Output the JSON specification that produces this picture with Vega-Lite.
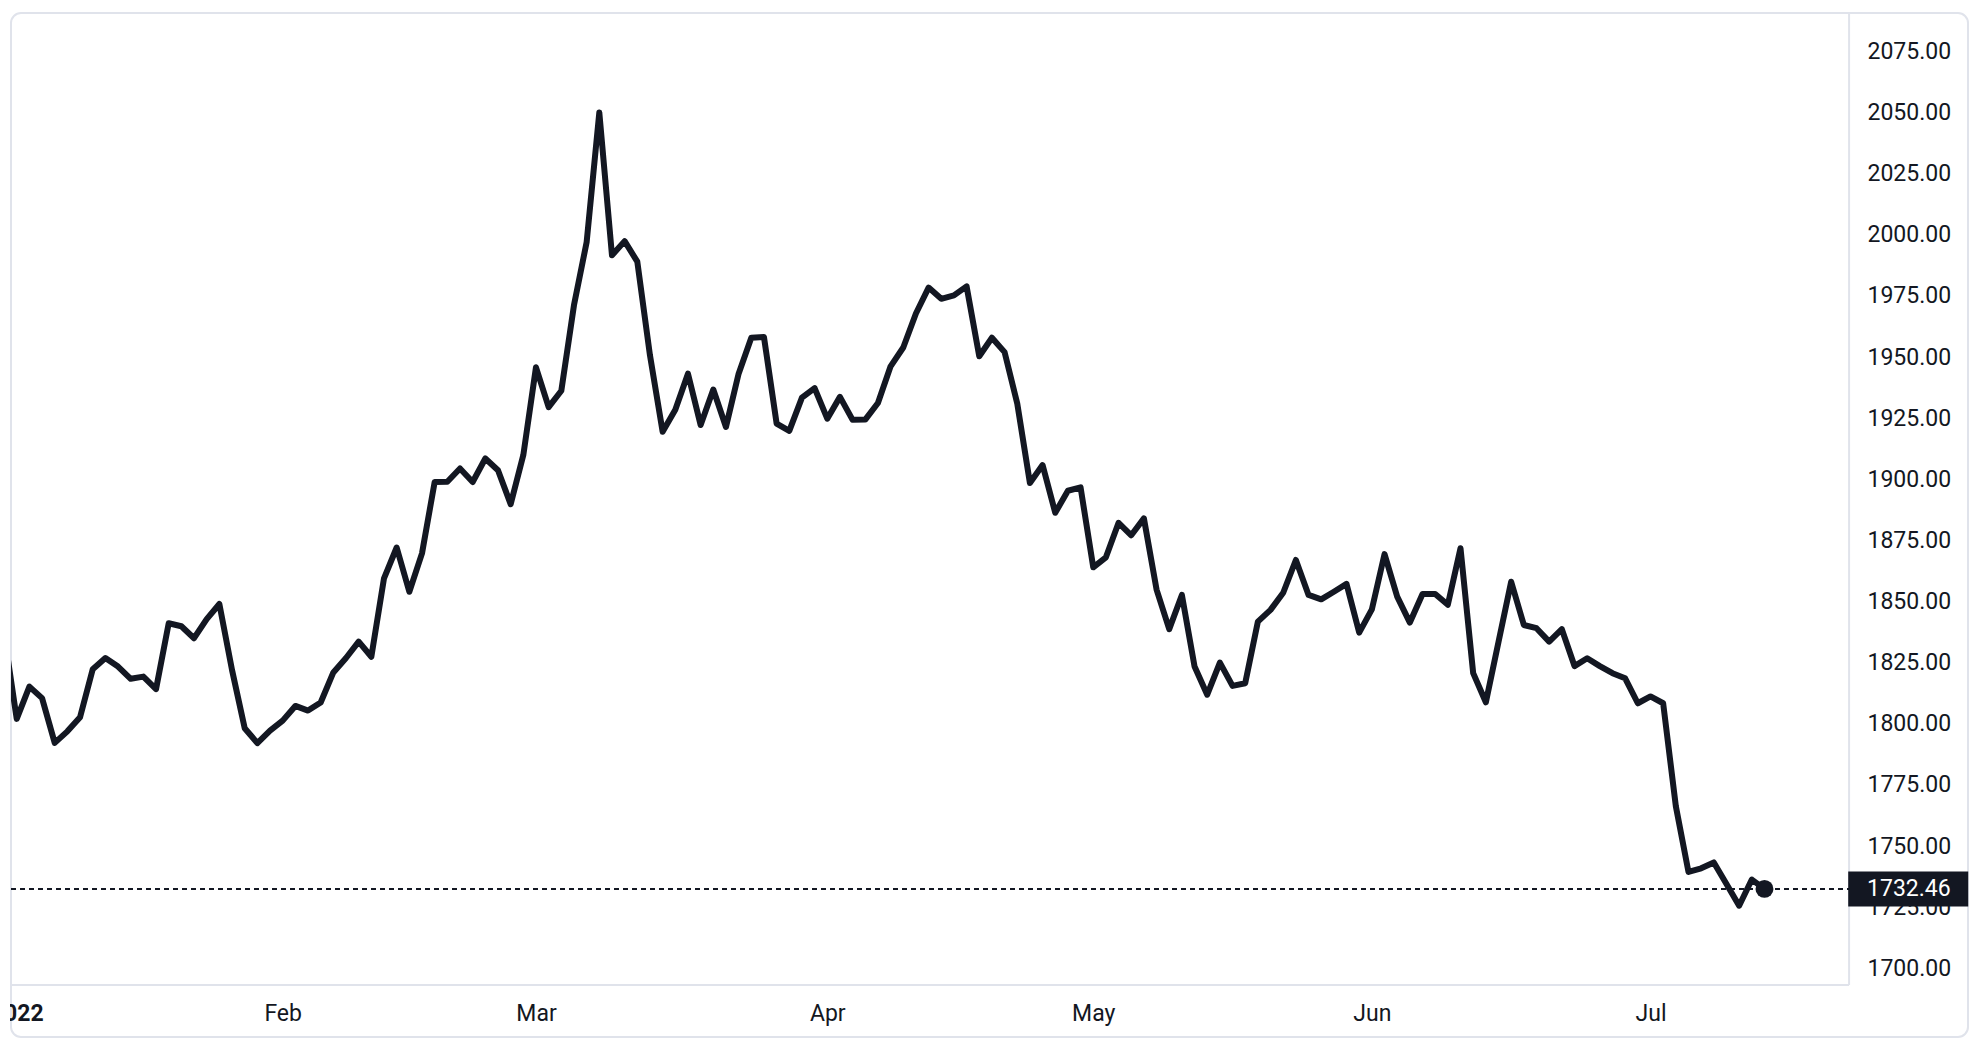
{
  "$schema": "https://vega.github.io/schema/vega-lite/v6.json",
  "width": 1957,
  "height": 1024,
  "autosize": {"type": "none"},
  "padding": {"left": 11, "top": 13, "right": 16, "bottom": 17},
  "background": "white",
  "config": {
    "view": {"stroke": "#e0e3eb", "strokeWidth": 2, "cornerRadius": 10},
    "axis": {
      "labelFont": "Roboto",
      "labelFontSize": 23,
      "labelColor": "#131722",
      "grid": false,
      "domain": false,
      "ticks": false,
      "tickSize": 0
    }
  },
  "datasets": {
    "prices": [
      {"bar": -1, "date": "2021-12-31", "close": 1837.0},
      {"bar": 0, "date": "2022-01-03", "close": 1802.0},
      {"bar": 1, "date": "2022-01-04", "close": 1815.2},
      {"bar": 2, "date": "2022-01-05", "close": 1810.5},
      {"bar": 3, "date": "2022-01-06", "close": 1792.2},
      {"bar": 4, "date": "2022-01-07", "close": 1796.9},
      {"bar": 5, "date": "2022-01-10", "close": 1802.7},
      {"bar": 6, "date": "2022-01-11", "close": 1822.3},
      {"bar": 7, "date": "2022-01-12", "close": 1826.9},
      {"bar": 8, "date": "2022-01-13", "close": 1823.4},
      {"bar": 9, "date": "2022-01-14", "close": 1818.4},
      {"bar": 10, "date": "2022-01-17", "close": 1819.3},
      {"bar": 11, "date": "2022-01-18", "close": 1814.2},
      {"bar": 12, "date": "2022-01-19", "close": 1841.1},
      {"bar": 13, "date": "2022-01-20", "close": 1839.9},
      {"bar": 14, "date": "2022-01-21", "close": 1835.0},
      {"bar": 15, "date": "2022-01-24", "close": 1842.8},
      {"bar": 16, "date": "2022-01-25", "close": 1849.0},
      {"bar": 17, "date": "2022-01-26", "close": 1822.0},
      {"bar": 18, "date": "2022-01-27", "close": 1798.2},
      {"bar": 19, "date": "2022-01-28", "close": 1792.1},
      {"bar": 20, "date": "2022-01-31", "close": 1797.2},
      {"bar": 21, "date": "2022-02-01", "close": 1801.3},
      {"bar": 22, "date": "2022-02-02", "close": 1807.3},
      {"bar": 23, "date": "2022-02-03", "close": 1805.4},
      {"bar": 24, "date": "2022-02-04", "close": 1808.7},
      {"bar": 25, "date": "2022-02-07", "close": 1821.0},
      {"bar": 26, "date": "2022-02-08", "close": 1826.9},
      {"bar": 27, "date": "2022-02-09", "close": 1833.6},
      {"bar": 28, "date": "2022-02-10", "close": 1827.4},
      {"bar": 29, "date": "2022-02-11", "close": 1859.5},
      {"bar": 30, "date": "2022-02-14", "close": 1872.1},
      {"bar": 31, "date": "2022-02-15", "close": 1854.0},
      {"bar": 32, "date": "2022-02-16", "close": 1869.7},
      {"bar": 33, "date": "2022-02-17", "close": 1898.9},
      {"bar": 34, "date": "2022-02-18", "close": 1899.0},
      {"bar": 35, "date": "2022-02-21", "close": 1904.4},
      {"bar": 36, "date": "2022-02-22", "close": 1898.9},
      {"bar": 37, "date": "2022-02-23", "close": 1908.5},
      {"bar": 38, "date": "2022-02-24", "close": 1903.7},
      {"bar": 39, "date": "2022-02-25", "close": 1889.8},
      {"bar": 40, "date": "2022-02-28", "close": 1909.9},
      {"bar": 41, "date": "2022-03-01", "close": 1945.8},
      {"bar": 42, "date": "2022-03-02", "close": 1929.5},
      {"bar": 43, "date": "2022-03-03", "close": 1936.2},
      {"bar": 44, "date": "2022-03-04", "close": 1971.2},
      {"bar": 45, "date": "2022-03-07", "close": 1997.0},
      {"bar": 46, "date": "2022-03-08", "close": 2050.0},
      {"bar": 47, "date": "2022-03-09", "close": 1991.6},
      {"bar": 48, "date": "2022-03-10", "close": 1997.4},
      {"bar": 49, "date": "2022-03-11", "close": 1989.0},
      {"bar": 50, "date": "2022-03-14", "close": 1950.7},
      {"bar": 51, "date": "2022-03-15", "close": 1919.4},
      {"bar": 52, "date": "2022-03-16", "close": 1928.4},
      {"bar": 53, "date": "2022-03-17", "close": 1943.2},
      {"bar": 54, "date": "2022-03-18", "close": 1922.2},
      {"bar": 55, "date": "2022-03-21", "close": 1936.7},
      {"bar": 56, "date": "2022-03-22", "close": 1921.4},
      {"bar": 57, "date": "2022-03-23", "close": 1943.2},
      {"bar": 58, "date": "2022-03-24", "close": 1957.9},
      {"bar": 59, "date": "2022-03-25", "close": 1958.2},
      {"bar": 60, "date": "2022-03-28", "close": 1922.8},
      {"bar": 61, "date": "2022-03-29", "close": 1919.8},
      {"bar": 62, "date": "2022-03-30", "close": 1933.4},
      {"bar": 63, "date": "2022-03-31", "close": 1937.3},
      {"bar": 64, "date": "2022-04-01", "close": 1924.8},
      {"bar": 65, "date": "2022-04-04", "close": 1933.7},
      {"bar": 66, "date": "2022-04-05", "close": 1924.3},
      {"bar": 67, "date": "2022-04-06", "close": 1924.4},
      {"bar": 68, "date": "2022-04-07", "close": 1931.2},
      {"bar": 69, "date": "2022-04-08", "close": 1946.2},
      {"bar": 70, "date": "2022-04-11", "close": 1953.9},
      {"bar": 71, "date": "2022-04-12", "close": 1967.8},
      {"bar": 72, "date": "2022-04-13", "close": 1978.4},
      {"bar": 73, "date": "2022-04-14", "close": 1973.8},
      {"bar": 74, "date": "2022-04-15", "close": 1975.2},
      {"bar": 75, "date": "2022-04-18", "close": 1978.9},
      {"bar": 76, "date": "2022-04-19", "close": 1950.3},
      {"bar": 77, "date": "2022-04-20", "close": 1957.9},
      {"bar": 78, "date": "2022-04-21", "close": 1952.0},
      {"bar": 79, "date": "2022-04-22", "close": 1931.0},
      {"bar": 80, "date": "2022-04-25", "close": 1898.5},
      {"bar": 81, "date": "2022-04-26", "close": 1905.8},
      {"bar": 82, "date": "2022-04-27", "close": 1886.3},
      {"bar": 83, "date": "2022-04-28", "close": 1895.3},
      {"bar": 84, "date": "2022-04-29", "close": 1896.7},
      {"bar": 85, "date": "2022-05-02", "close": 1864.0},
      {"bar": 86, "date": "2022-05-03", "close": 1868.1},
      {"bar": 87, "date": "2022-05-04", "close": 1882.2},
      {"bar": 88, "date": "2022-05-05", "close": 1877.1},
      {"bar": 89, "date": "2022-05-06", "close": 1884.0},
      {"bar": 90, "date": "2022-05-09", "close": 1854.9},
      {"bar": 91, "date": "2022-05-10", "close": 1838.7},
      {"bar": 92, "date": "2022-05-11", "close": 1852.7},
      {"bar": 93, "date": "2022-05-12", "close": 1823.4},
      {"bar": 94, "date": "2022-05-13", "close": 1811.9},
      {"bar": 95, "date": "2022-05-16", "close": 1825.0},
      {"bar": 96, "date": "2022-05-17", "close": 1815.5},
      {"bar": 97, "date": "2022-05-18", "close": 1816.6},
      {"bar": 98, "date": "2022-05-19", "close": 1841.8},
      {"bar": 99, "date": "2022-05-20", "close": 1846.6},
      {"bar": 100, "date": "2022-05-23", "close": 1853.6},
      {"bar": 101, "date": "2022-05-24", "close": 1867.0},
      {"bar": 102, "date": "2022-05-25", "close": 1852.7},
      {"bar": 103, "date": "2022-05-26", "close": 1850.9},
      {"bar": 104, "date": "2022-05-27", "close": 1854.0},
      {"bar": 105, "date": "2022-05-30", "close": 1857.2},
      {"bar": 106, "date": "2022-05-31", "close": 1837.3},
      {"bar": 107, "date": "2022-06-01", "close": 1846.8},
      {"bar": 108, "date": "2022-06-02", "close": 1869.4},
      {"bar": 109, "date": "2022-06-03", "close": 1852.0},
      {"bar": 110, "date": "2022-06-06", "close": 1841.4},
      {"bar": 111, "date": "2022-06-07", "close": 1853.1},
      {"bar": 112, "date": "2022-06-08", "close": 1853.1},
      {"bar": 113, "date": "2022-06-09", "close": 1848.7},
      {"bar": 114, "date": "2022-06-10", "close": 1871.8},
      {"bar": 115, "date": "2022-06-13", "close": 1820.7},
      {"bar": 116, "date": "2022-06-14", "close": 1808.8},
      {"bar": 117, "date": "2022-06-15", "close": 1833.5},
      {"bar": 118, "date": "2022-06-16", "close": 1858.1},
      {"bar": 119, "date": "2022-06-17", "close": 1840.4},
      {"bar": 120, "date": "2022-06-20", "close": 1839.1},
      {"bar": 121, "date": "2022-06-21", "close": 1833.6},
      {"bar": 122, "date": "2022-06-22", "close": 1838.7},
      {"bar": 123, "date": "2022-06-23", "close": 1823.6},
      {"bar": 124, "date": "2022-06-24", "close": 1826.8},
      {"bar": 125, "date": "2022-06-27", "close": 1823.6},
      {"bar": 126, "date": "2022-06-28", "close": 1820.7},
      {"bar": 127, "date": "2022-06-29", "close": 1818.6},
      {"bar": 128, "date": "2022-06-30", "close": 1808.4},
      {"bar": 129, "date": "2022-07-01", "close": 1811.2},
      {"bar": 130, "date": "2022-07-04", "close": 1808.4},
      {"bar": 131, "date": "2022-07-05", "close": 1766.3},
      {"bar": 132, "date": "2022-07-06", "close": 1739.4},
      {"bar": 133, "date": "2022-07-07", "close": 1740.9},
      {"bar": 134, "date": "2022-07-08", "close": 1743.3},
      {"bar": 135, "date": "2022-07-11", "close": 1734.5},
      {"bar": 136, "date": "2022-07-12", "close": 1725.6},
      {"bar": 137, "date": "2022-07-13", "close": 1736.3},
      {"bar": 138, "date": "2022-07-14", "close": 1732.46}
    ]
  },
  "data": {"name": "prices"},
  "layer": [
    {
      "mark": {"type": "line", "color": "#131722", "strokeWidth": 6, "strokeJoin": "round", "strokeCap": "round", "clip": true},
      "encoding": {
        "x": {
          "field": "bar",
          "type": "quantitative",
          "scale": {"domain": [-0.452, 154.07], "nice": false, "zero": false},
          "axis": {
            "title": null,
            "orient": "bottom",
            "offset": -52,
            "values": [0, 21, 41, 64, 85, 107, 129],
            "labelExpr": "datum.value == 0 ? '2022' : datum.value == 21 ? 'Feb' : datum.value == 41 ? 'Mar' : datum.value == 64 ? 'Apr' : datum.value == 85 ? 'May' : datum.value == 107 ? 'Jun' : 'Jul'",
            "labelPadding": 28,
            "labelBaseline": "middle",
            "labelFlush": false,
            "labelBound": false,
            "labelOverlap": false,
            "labelFontWeight": {"condition": {"test": "datum.value == 0", "value": "bold"}, "value": "normal"}
          }
        },
        "y": {
          "field": "close",
          "type": "quantitative",
          "scale": {"domain": [1671.9, 2090.7], "nice": false, "zero": false},
          "axis": {
            "title": null,
            "orient": "right",
            "offset": -119,
            "values": [1700, 1725, 1750, 1775, 1800, 1825, 1850, 1875, 1900, 1925, 1950, 1975, 2000, 2025, 2050, 2075],
            "format": ".2f",
            "labelPadding": 18,
            "labelBaseline": "middle",
            "labelOverlap": false,
            "labelBound": false,
            "labelFlush": false
          }
        }
      }
    },
    {
      "data": {"values": [{}]},
      "mark": {"type": "rect", "color": "white", "opacity": 1},
      "encoding": {
        "x": {"datum": -1.6, "type": "quantitative"},
        "x2": {"datum": -0.531},
        "y": {"datum": 1671.9, "type": "quantitative"},
        "y2": {"datum": 1693.0}
      }
    },
    {
      "data": {"values": [{}]},
      "mark": {"type": "rule", "color": "#e0e3eb", "strokeWidth": 2},
      "encoding": {
        "x": {"datum": 144.68, "type": "quantitative"},
        "y": {"datum": 1693.2, "type": "quantitative"},
        "y2": {"datum": 2090.7}
      }
    },
    {
      "data": {"values": [{}]},
      "mark": {"type": "rule", "color": "#e0e3eb", "strokeWidth": 2},
      "encoding": {
        "x": {"datum": -0.452, "type": "quantitative"},
        "x2": {"datum": 144.68},
        "y": {"datum": 1693.2, "type": "quantitative"}
      }
    },
    {
      "transform": [{"filter": "datum.bar == 138"}],
      "mark": {"type": "rule", "color": "#131722", "strokeWidth": 2, "strokeDash": [5, 4]},
      "encoding": {
        "x": {"datum": -0.452, "type": "quantitative"},
        "x2": {"datum": 144.68},
        "y": {"field": "close", "type": "quantitative"}
      }
    },
    {
      "transform": [{"filter": "datum.bar == 138"}],
      "mark": {"type": "circle", "size": 320, "color": "#131722", "opacity": 1},
      "encoding": {
        "x": {"field": "bar", "type": "quantitative"},
        "y": {"field": "close", "type": "quantitative"}
      }
    },
    {
      "transform": [{"filter": "datum.bar == 138"}],
      "mark": {"type": "tick", "orient": "vertical", "size": 35, "thickness": 120, "color": "#131722", "opacity": 1},
      "encoding": {
        "x": {"datum": 149.35, "type": "quantitative"},
        "y": {"field": "close", "type": "quantitative"}
      }
    },
    {
      "transform": [{"filter": "datum.bar == 138"}],
      "mark": {"type": "text", "align": "left", "baseline": "middle", "dx": 18, "font": "Roboto", "fontSize": 23, "color": "white"},
      "encoding": {
        "x": {"datum": 144.68, "type": "quantitative"},
        "y": {"field": "close", "type": "quantitative"},
        "text": {"field": "close", "type": "quantitative", "format": ".2f"}
      }
    }
  ]
}
